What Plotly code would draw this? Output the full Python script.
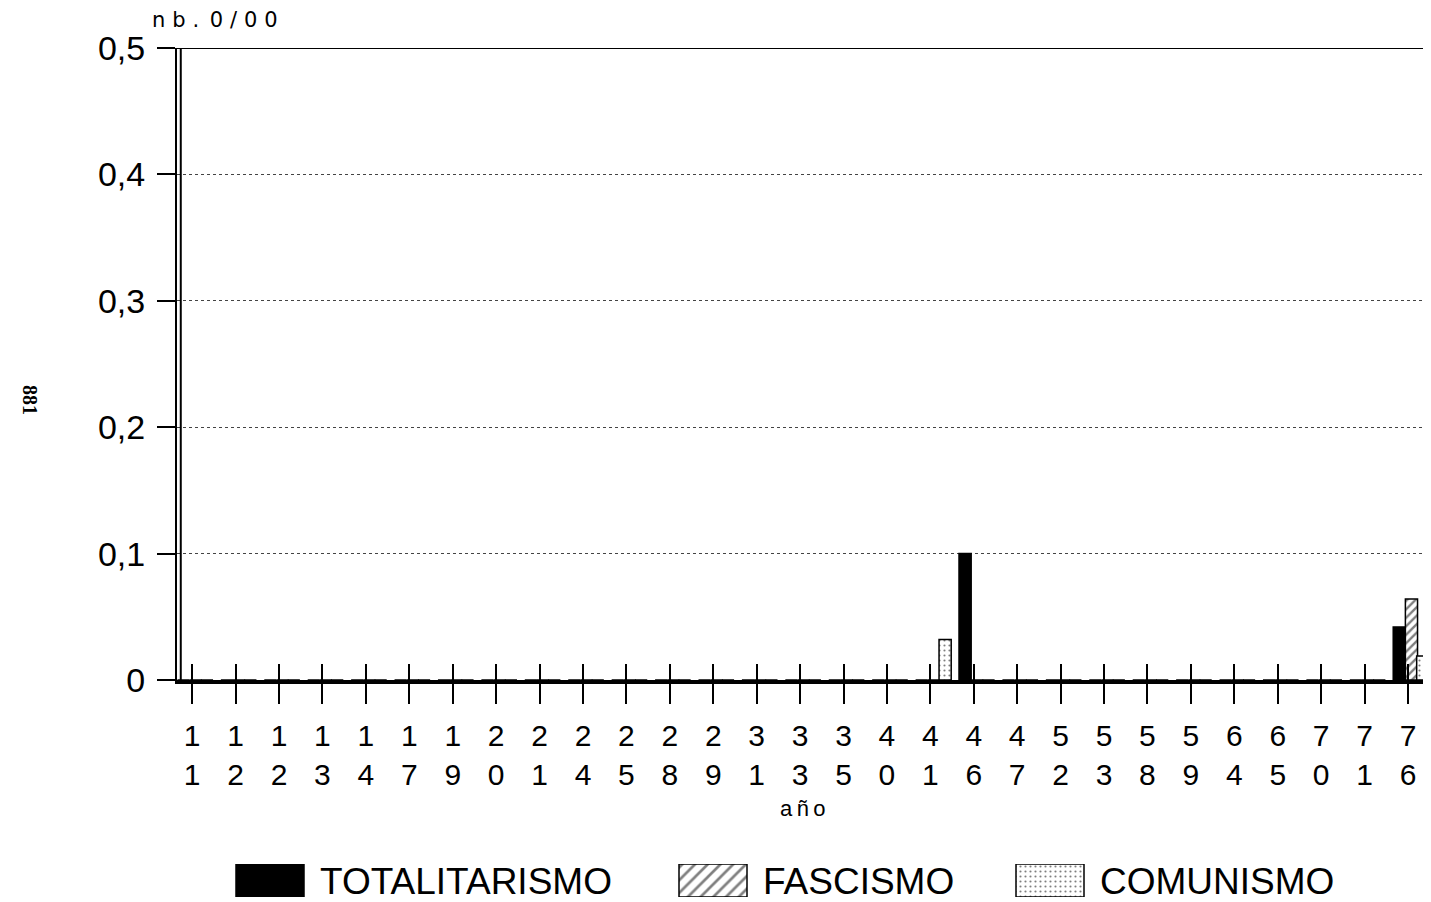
import plotly.graph_objects as go

# the page puts the figure 8px in from the top-left corner
OFF = 8
FW, FH = 1431 - OFF, 902 - OFF


def px(x):
    return (x - OFF) / FW


def py(y):
    return 1 - (y - OFF) / FH


# years on the x axis (two-digit, printed stacked)
years = ["11", "12", "12", "13", "14", "17", "19", "20", "21", "24", "25", "28", "29",
         "31", "33", "35", "40", "41", "46", "47", "52", "53", "58", "59", "64", "65",
         "70", "71", "76"]
totalitarismo = [0] * 18 + [0.100] + [0] * 9 + [0.042]
fascismo = [0] * 28 + [0.064]
comunismo = [0] * 17 + [0.032] + [0] * 10 + [0.019]

y_ticks = [0, 0.1, 0.2, 0.3, 0.4, 0.5]
y_labels = ["0", "0,1", "0,2", "0,3", "0,4", "0,5"]
legend_names = ["TOTALITARISMO", "FASCISMO", "COMUNISMO"]

xs = list(range(len(years)))
ticktext = [y[0] + "<br>" + y[1] for y in years]
font = "Liberation Sans, Arial, sans-serif"
thin = "\u2009"
sp3 = "\u2004"

fig = go.Figure()

bw = 0.28
fig.add_trace(go.Bar(x=xs, y=totalitarismo, name=legend_names[0], width=bw, offset=-0.34,
                     marker=dict(color="black", line=dict(color="black", width=1.5))))
fig.add_trace(go.Bar(x=xs, y=fascismo, name=legend_names[1], width=bw, offset=-0.06,
                     marker=dict(color="white", line=dict(color="black", width=1.5),
                                 pattern=dict(shape="/", fgcolor="black", bgcolor="white",
                                              size=6, solidity=0.4))))
fig.add_trace(go.Bar(x=xs, y=comunismo, name=legend_names[2], width=bw, offset=0.2,
                     marker=dict(color="white", line=dict(color="black", width=1.5),
                                 pattern=dict(shape=".", fgcolor="black", bgcolor="white",
                                              size=5, solidity=0.15))))

# hand-made legend keys (large boxes, like the original)
key_x = [270, 713, 1050]
key_styles = [
    dict(color="black", line=dict(color="black", width=1.5)),
    dict(color="white", line=dict(color="black", width=1.5),
         pattern=dict(shape="/", fgcolor="black", bgcolor="white", size=9, solidity=0.3)),
    dict(color="white", line=dict(color="black", width=1.5),
         pattern=dict(shape=".", fgcolor="black", bgcolor="white", size=5, solidity=0.15)),
]
for kx, st in zip(key_x, key_styles):
    fig.add_trace(go.Bar(x=[kx - OFF], y=[1], width=68, marker=st, xaxis="x2", yaxis="y2",
                         showlegend=False, hoverinfo="skip"))

for kx, name in zip(key_x, legend_names):
    fig.add_annotation(x=px(kx + 48), y=py(881), xref="paper", yref="paper",
                       text=name, showarrow=False, xanchor="left", yanchor="middle",
                       font=dict(family=font, size=37, color="black"))

x_rng = [-0.35, 28.53]
fig.update_layout(
    width=FW, height=FH,
    margin=dict(l=0, r=0, t=0, b=0, pad=0, autoexpand=False),
    paper_bgcolor="white", plot_bgcolor="white",
    barmode="overlay", showlegend=False,
    font=dict(family=font, color="black"),
    xaxis=dict(domain=[px(177), 1], range=x_rng, tickvals=xs, ticktext=ticktext,
               tickfont=dict(size=30), ticks="outside", ticklen=20, tickwidth=2,
               tickcolor="black", showline=True, linewidth=4, linecolor="black",
               showgrid=False, zeroline=False, ticklabelstandoff=6, automargin=False),
    xaxis3=dict(overlaying="x", anchor="y", range=x_rng, tickvals=xs, side="bottom",
                showticklabels=False, ticks="inside", ticklen=16, tickwidth=2,
                tickcolor="black", showgrid=False, zeroline=False, showline=False,
                automargin=False),
    yaxis=dict(domain=[py(680), py(48)], range=[0, 0.5], tickvals=y_ticks,
               ticktext=y_labels, tickfont=dict(size=34), ticks="outside", ticklen=18,
               tickwidth=2, tickcolor="black", showline=True, linewidth=2,
               linecolor="black", showgrid=True, gridcolor="#444", griddash="dot",
               gridwidth=1, zeroline=False, ticklabelstandoff=5, automargin=False),
    xaxis2=dict(domain=[0, 1], range=[0, FW], anchor="y2", visible=False, automargin=False),
    yaxis2=dict(domain=[py(897), py(864)], range=[0, 1], anchor="x2",
                visible=False, automargin=False),
)
# invisible trace to activate xaxis3
fig.add_trace(go.Scatter(x=[0], y=[0], xaxis="x3", yaxis="y", mode="markers",
                         marker=dict(opacity=0), showlegend=False, hoverinfo="skip"))

# top frame line and doubled left axis line
fig.add_shape(type="line", xref="x domain", yref="y", x0=0, x1=1, y0=0.5, y1=0.5,
              line=dict(color="black", width=2))
fig.add_shape(type="line", xref="x domain", yref="y", x0=0.003, x1=0.003, y0=0, y1=0.5,
              line=dict(color="black", width=2))

fig.add_annotation(x=px(150), y=py(20), xref="paper", yref="paper",
                   text=sp3.join("nb.") + "\u2002" + sp3.join("0/00"),
                   showarrow=False, xanchor="left", yanchor="middle",
                   font=dict(family="DejaVu Sans, sans-serif", size=21))
fig.add_annotation(x=px(803), y=py(808), xref="paper", yref="paper",
                   text=thin.join("año"), showarrow=False, xanchor="center",
                   yanchor="middle", font=dict(family=font, size=22))
fig.add_annotation(x=px(30), y=py(400), xref="paper", yref="paper", text="<b>881</b>",
                   showarrow=False, textangle=90, xanchor="center", yanchor="middle",
                   font=dict(family="Liberation Serif, serif", size=20))

fig.write_html("out.html")
